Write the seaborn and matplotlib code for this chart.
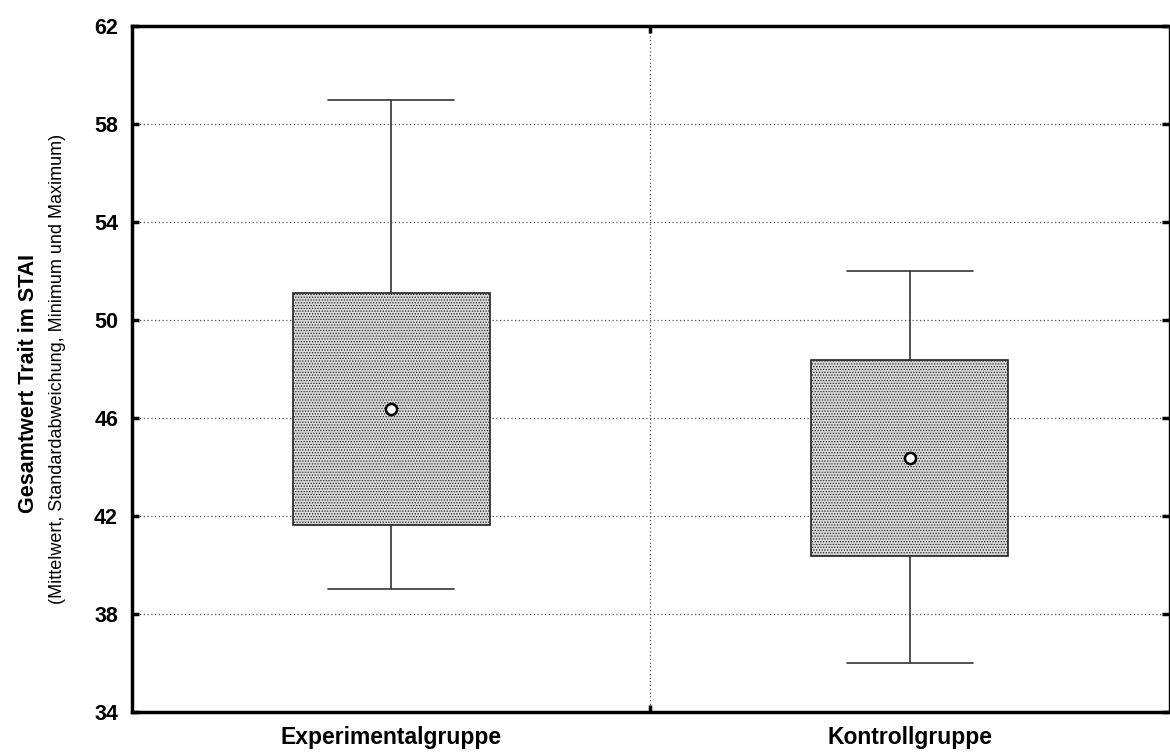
import pandas as pd
import matplotlib
matplotlib.use("Agg")
import matplotlib.pyplot as plt
from matplotlib import font_manager
import seaborn as sns

# Mittelwert, +/- SD, Min und Max pro Gruppe
gruppen = ["Experimentalgruppe", "Kontrollgruppe"]
mittelwert = [46.35, 44.35]
sd_unten = [41.65, 40.35]
sd_oben = [51.1, 48.35]
minimum = [39.0, 36.0]
maximum = [59.0, 52.0]
y_ticks = [34, 38, 42, 46, 50, 54, 58, 62]

# 5 Punkte pro Gruppe -> Quartile = Mittelwert +/- SD, Whisker = Min/Max
rows = []
for i, g in enumerate(gruppen):
    for v in [minimum[i], sd_unten[i], mittelwert[i], sd_oben[i], maximum[i]]:
        rows.append({"gruppe": g, "wert": v})
df = pd.DataFrame(rows)

sns.set_style("white")
plt.rcParams["font.family"] = ["Liberation Sans", "DejaVu Sans"]
plt.rcParams["text.color"] = "black"
plt.rcParams["xtick.color"] = "black"
plt.rcParams["ytick.color"] = "black"
plt.rcParams["hatch.linewidth"] = 0.6
plt.rcParams["hatch.color"] = "#444444"

# schmale Schrift fuer die Achsenbeschriftung, falls vorhanden
namen = set(f.name for f in font_manager.fontManager.ttflist)
if "Liberation Sans Narrow" in namen:
    schmal = "Liberation Sans Narrow"
    gr1, gr2 = 19, 16
else:
    schmal = "Liberation Sans"
    gr1, gr2 = 15.5, 13

fig = plt.figure(figsize=(11.7, 7.52), dpi=100)
ax = fig.add_axes([0.1128, 0.0532, 0.8862, 0.9122])

sns.boxplot(data=df, x="gruppe", y="wert", whis=(0, 100), width=0.38,
            color="#d9d9d9", linecolor="#333333", linewidth=1.2, capwidths=0.243,
            medianprops={"visible": False}, showfliers=False, ax=ax)
for p in ax.patches:
    p.set_hatch("......")
    p.set_edgecolor("#222222")

sns.stripplot(x=gruppen, y=mittelwert, jitter=False, color="white",
              edgecolor="black", linewidth=1.8, size=8, marker="o", ax=ax, zorder=5)

ax.set_xlim(-0.5, 1.5)
ax.set_ylim(34, 62)
ax.set_yticks(y_ticks)
ax.set_yticklabels([str(t) for t in y_ticks], fontsize=15.5, fontweight="bold")
ax.set_xticks([0, 1])
ax.set_xticklabels(gruppen, fontsize=16.5, fontweight="bold")
ax.set_xlabel("")
ax.set_ylabel("")

for t in y_ticks[1:-1]:
    ax.axhline(t, color="#555555", linestyle=(0, (1, 2)), linewidth=0.9, zorder=0)
ax.axvline(0.5, color="#555555", linestyle=(0, (1, 2)), linewidth=0.9, zorder=0)

for s in ["left", "bottom", "top"]:
    ax.spines[s].set_linewidth(2.5)
    ax.spines[s].set_color("black")
ax.spines["right"].set_linewidth(1)
ax.spines["right"].set_color("black")

ax.tick_params(axis="y", left=True, right=True, direction="in", length=5, width=2.5, pad=10)
ax.tick_params(axis="x", bottom=False, length=0, pad=10)
ax.set_xticks([0.5], minor=True)
ax.tick_params(axis="x", which="minor", bottom=True, top=True, direction="in", length=5, width=2.5)

fig.text(0.024, 0.49, "Gesamtwert Trait im STAI", rotation=90, ha="center", va="center",
         fontsize=gr1, fontweight="bold", family=[schmal, "DejaVu Sans"])
fig.text(0.049, 0.51, "(Mittelwert, Standardabweichung, Minimum und Maximum)", rotation=90,
         ha="center", va="center", fontsize=gr2, family=[schmal, "DejaVu Sans"])

fig.savefig("out.png", dpi=100)
